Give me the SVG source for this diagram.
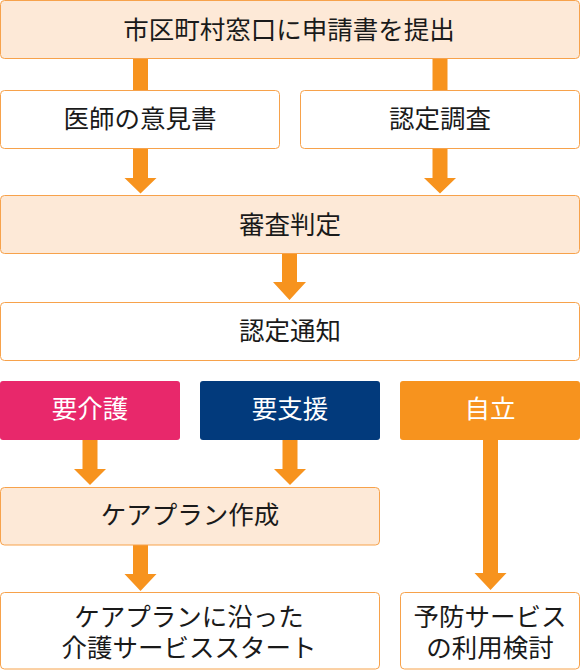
<svg xmlns="http://www.w3.org/2000/svg" width="580" height="670" viewBox="0 0 580 670">
<style>
  .peach { fill: #FDE9D7; stroke: #F7A24B; stroke-width: 1; }
  .white { fill: #FFFFFF; stroke: #F7A24B; stroke-width: 1; }
  .arrow { fill: #F7931E; stroke: none; }
  text { font-family: "Liberation Sans", "Noto Sans CJK JP", sans-serif; font-size: 25.5px; text-anchor: middle; fill: #1A1A1A; }
  .wt { fill: #FFFFFF; }
</style>
<rect width="580" height="670" fill="#FFFFFF"/>
<g id="connectors">
  <rect class="arrow" x="133" y="59" width="15" height="31"/>
  <rect class="arrow" x="432.5" y="59" width="15" height="31"/>
  <polygon class="arrow" points="133,148 148,148 148,178 156.5,178 140.5,193.5 124.5,178 133,178"/>
  <polygon class="arrow" points="432.5,148 447.5,148 447.5,178 456,178 440,193.5 424,178 432.5,178"/>
  <polygon class="arrow" points="282,254 297,254 297,282 306,282 289.5,300 273,282 282,282"/>
  <polygon class="arrow" points="82.5,440 97.5,440 97.5,469 106,469 90,485 74,469 82.5,469"/>
  <polygon class="arrow" points="282.5,440 297.5,440 297.5,469 306,469 290,485 274,469 282.5,469"/>
  <polygon class="arrow" points="133,545 148,545 148,574 156.5,574 140.5,591 124.5,574 133,574"/>
  <polygon class="arrow" points="483,440 498,440 498,573 506.5,573 490.5,590 474.5,573 483,573"/>
</g>
<g id="node-application">
  <rect class="peach" x="0.5" y="0.5" width="579" height="58" rx="4"/>
  <text x="289" y="38.5">市区町村窓口に申請書を提出</text>
</g>
<g id="node-doctor">
  <rect class="white" x="0.5" y="90.5" width="279" height="58" rx="4"/>
  <text x="140" y="127.5">医師の意見書</text>
</g>
<g id="node-survey">
  <rect class="white" x="300.5" y="90.5" width="279" height="58" rx="4"/>
  <text x="440" y="127.5">認定調査</text>
</g>
<g id="node-judgement">
  <rect class="peach" x="0.5" y="195.5" width="579" height="58" rx="4"/>
  <text x="290" y="233.5">審査判定</text>
</g>
<g id="node-notice">
  <rect class="white" x="0.5" y="302.5" width="579" height="58" rx="4"/>
  <text x="290" y="340">認定通知</text>
</g>
<g id="node-care">
  <rect x="0" y="381" width="180" height="59" rx="3" fill="#E8286B"/>
  <text class="wt" x="90" y="418">要介護</text>
</g>
<g id="node-support">
  <rect x="200" y="381" width="180" height="59" rx="3" fill="#023A7C"/>
  <text class="wt" x="290" y="418">要支援</text>
</g>
<g id="node-independent">
  <rect x="400" y="381" width="180" height="59" rx="3" fill="#F7931E"/>
  <text class="wt" x="490" y="418">自立</text>
</g>
<g id="node-careplan">
  <rect class="peach" x="0.5" y="487.5" width="379" height="57.5" rx="4"/>
  <text x="190" y="523.5">ケアプラン作成</text>
</g>
<g id="node-service-start">
  <rect class="white" x="0.5" y="592.5" width="379" height="76.5" rx="4"/>
  <text x="189" y="626"><tspan x="189" y="626">ケアプランに沿った</tspan><tspan x="189" y="657">介護サービススタート</tspan></text>
</g>
<g id="node-prevention">
  <rect class="white" x="400.5" y="592.5" width="179" height="76.5" rx="4"/>
  <text x="490" y="626"><tspan x="490" y="626">予防サービス</tspan><tspan x="490" y="657">の利用検討</tspan></text>
</g>
</svg>
